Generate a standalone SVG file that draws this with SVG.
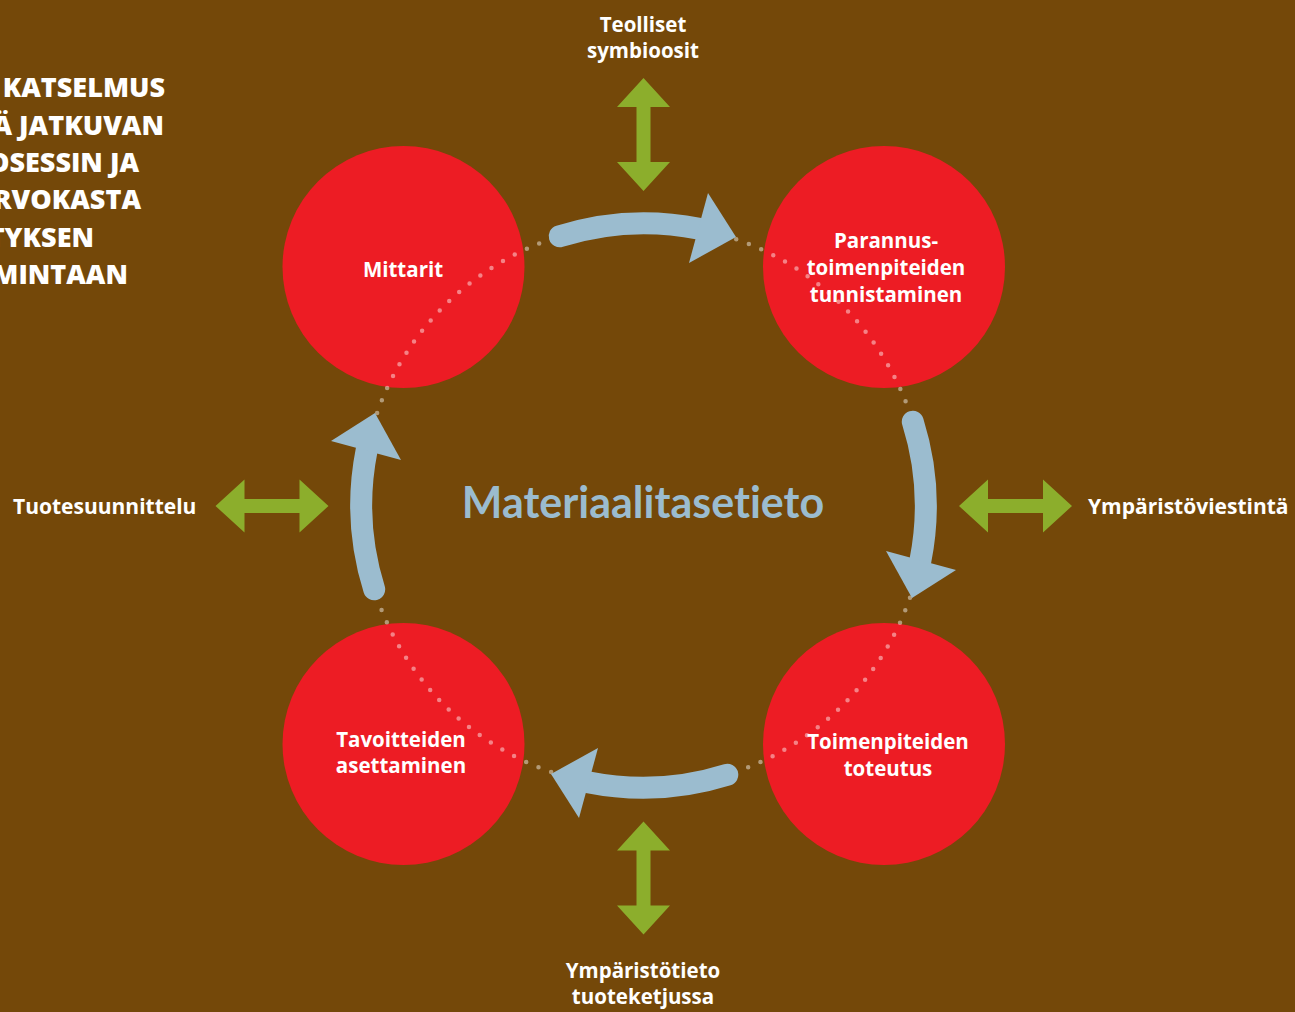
<svg xmlns="http://www.w3.org/2000/svg" xmlns:xlink="http://www.w3.org/1999/xlink" width="1295" height="1012" viewBox="0 0 1295 1012">
  <style>
    text { font-variant-ligatures: none; }
    .lbl { font-family: "Open Sans", Lato, "Liberation Sans", sans-serif; font-weight: 700; font-size: 20.5px; fill: #ffffff; text-anchor: middle; }
    .side { font-family: "Open Sans", Lato, "Liberation Sans", sans-serif; font-weight: 700; font-size: 21px; fill: #ffffff; }
    .head { font-family: "Open Sans", "Liberation Sans", sans-serif; font-weight: 800; font-size: 27px; fill: #ffffff; text-anchor: end; }
    .center { font-family: Lato, "Open Sans", "Liberation Sans", sans-serif; font-weight: 700; font-size: 43px; fill: #9bbccf; text-anchor: middle; }
    .node { fill: #ed1c24; }
    .shaft { fill: none; stroke: #9bbccf; stroke-width: 22; stroke-linecap: round; }
    .tip { fill: #9bbccf; }
    .green { fill: #8cae2c; }
  </style>
  <defs>
    <path id="dbl" d="M0,-56.5 L26.5,-27.5 L7,-27.5 L7,27.5 L26.5,27.5 L0,56.5 L-26.5,27.5 L-7,27.5 L-7,-27.5 L-26.5,-27.5 Z"/>
    <g id="cyc">
      <path class="shaft" d="M559.7,236.2 A282,282 0 0 1 699.2,228.7"/>
      <polygon class="tip" points="736,237 708,193 689,263"/>
    </g>
  </defs>
  <rect x="0" y="0" width="1295" height="1012" fill="#744809"/>

  <g id="intro">
    <text class="head" x="165" y="97">KATSELMUS</text>
    <text class="head" x="164" y="135">Ä JATKUVAN</text>
    <text class="head" x="139" y="172">OSESSIN JA</text>
    <text class="head" x="141" y="209">RVOKASTA</text>
    <text class="head" x="94" y="247">TYKSEN</text>
    <text class="head" x="128" y="284">MINTAAN</text>
  </g>

  <g id="node-mittarit">
    <circle class="node" cx="403.5" cy="267" r="121"/>
    <text class="lbl" x="403" y="277">Mittarit</text>
  </g>
  <g id="node-parannus">
    <circle class="node" cx="884" cy="267" r="121"/>
    <text class="lbl" x="886" y="248">Parannus-</text>
    <text class="lbl" x="886" y="275">toimenpiteiden</text>
    <text class="lbl" x="886" y="302">tunnistaminen</text>
  </g>
  <g id="node-tavoitteiden">
    <circle class="node" cx="403.5" cy="744" r="121"/>
    <text class="lbl" x="401" y="747">Tavoitteiden</text>
    <text class="lbl" x="401" y="773">asettaminen</text>
  </g>
  <g id="node-toimenpiteiden">
    <circle class="node" cx="884" cy="744" r="121"/>
    <text class="lbl" x="888" y="749">Toimenpiteiden</text>
    <text class="lbl" x="888" y="776">toteutus</text>
  </g>

  <g id="connectors">
    <circle cx="643.5" cy="505.5" r="282" fill="none" stroke="#ffffff" stroke-opacity="0.45" stroke-width="4.5" stroke-linecap="round" stroke-dasharray="0 13.4235"/>
    <use xlink:href="#cyc"/>
    <use xlink:href="#cyc" transform="rotate(90 643.5 505.5)"/>
    <use xlink:href="#cyc" transform="rotate(180 643.5 505.5)"/>
    <use xlink:href="#cyc" transform="rotate(270 643.5 505.5)"/>
    <use xlink:href="#dbl" class="green" transform="translate(643.5 134.5)"/>
    <use xlink:href="#dbl" class="green" transform="translate(643.5 878)"/>
    <use xlink:href="#dbl" class="green" transform="translate(272 506) rotate(90)"/>
    <use xlink:href="#dbl" class="green" transform="translate(1015.5 506) rotate(90)"/>
  </g>

  <g id="center-label">
    <text class="center" x="643" y="518">Materiaalitasetieto</text>
  </g>
  <g id="ext-teolliset">
    <text class="lbl" x="643" y="32">Teolliset</text>
    <text class="lbl" x="643" y="58">symbioosit</text>
  </g>
  <g id="ext-ymparistotieto">
    <text class="lbl" x="643" y="978">Ympäristötieto</text>
    <text class="lbl" x="643" y="1004">tuoteketjussa</text>
  </g>
  <g id="ext-tuotesuunnittelu">
    <text class="side" x="13" y="514">Tuotesuunnittelu</text>
  </g>
  <g id="ext-ymparistoviestinta">
    <text class="side" x="1088" y="514">Ympäristöviestintä</text>
  </g>
</svg>
